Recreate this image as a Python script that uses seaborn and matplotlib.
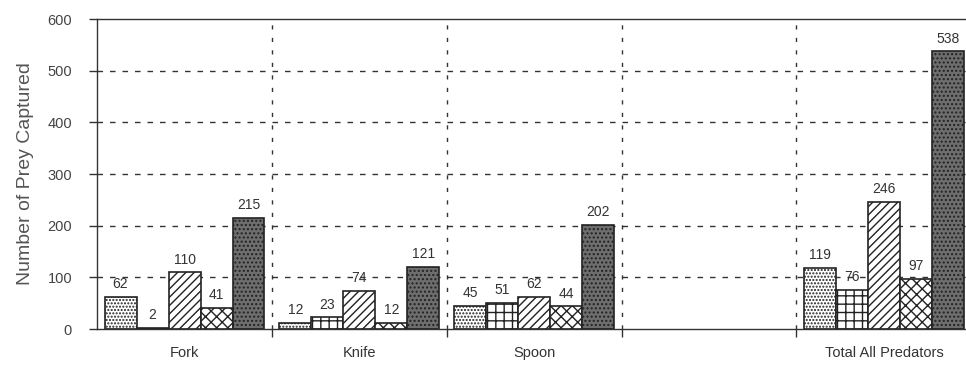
import numpy as np
import pandas as pd
import matplotlib
matplotlib.use('Agg')
import matplotlib.pyplot as plt
import seaborn as sns

# data
groups = ['Fork', 'Knife', 'Spoon', 'Total All Predators']
prey_types = ['Type 1', 'Type 2', 'Type 3', 'Type 4', 'Type 5']
fork = [62, 2, 110, 41, 215]
knife = [12, 23, 74, 12, 121]
spoon = [45, 51, 62, 44, 202]
total = [119, 76, 246, 97, 538]
yticks = [0, 100, 200, 300, 400, 500, 600]

order = ['Fork', 'Knife', 'Spoon', ' ', 'Total All Predators']

rows = []
for g, vals in zip(groups, [fork, knife, spoon, total]):
    for p, v in zip(prey_types, vals):
        rows.append({'group': g, 'prey': p, 'count': v})
df = pd.DataFrame(rows)

sns.set_style('white')
plt.rcParams['font.family'] = ['Liberation Sans', 'DejaVu Sans']
plt.rcParams['hatch.linewidth'] = 1.0

fig = plt.figure(figsize=(9.66, 3.66), dpi=100)
ax = fig.add_axes([0.1005, 0.101, 0.905, 0.847])

sns.barplot(data=df, x='group', y='count', hue='prey', order=order,
            hue_order=prey_types, width=0.915, legend=False,
            edgecolor='#222222', linewidth=1.2, ax=ax)

styles = [('white', '.....'), ('white', '++'), ('white', '////'),
          ('white', 'xxx'), ('#6e6e6e', '....')]
for cont, (fc, h) in zip(ax.containers, styles):
    for bar in cont:
        bar.set_facecolor(fc)
        bar.set_hatch(h)
        bar.set_edgecolor('#222222')
    ax.bar_label(cont, padding=4, fontsize=10, color='#333333')

ax.set_ylim(0, 600)
ax.set_xlim(-0.5, 4.5)
ax.set_yticks(yticks)
ax.set_yticklabels([str(t) for t in yticks], fontsize=10.5, color='#444444')
ax.tick_params(axis='y', left=True, direction='out', length=6, width=1, color='#333333', pad=12)
ax.tick_params(axis='x', which='major', bottom=False, length=0, labelsize=10.5, labelcolor='#333333', pad=12)
ax.set_xticks([0.5, 1.5, 2.5, 3.5], minor=True)
ax.tick_params(axis='x', which='minor', bottom=True, direction='out', length=6, width=1, color='#333333')

ax.set_xlabel('')
ax.set_ylabel('Number of Prey Captured', fontsize=14, color='#555555', labelpad=10)

for y in yticks[1:-1]:
    ax.axhline(y, color='#333333', lw=1, ls=(0, (4, 5)), zorder=0)
for x in [0.5, 1.5, 2.5, 3.5]:
    ax.axvline(x, color='#333333', lw=1, ls=(0, (3, 6)), zorder=0)

for s in ['left', 'bottom', 'top']:
    ax.spines[s].set_visible(True)
    ax.spines[s].set_color('#333333')
    ax.spines[s].set_linewidth(1.0)
ax.spines['right'].set_visible(False)

fig.savefig('out.png', dpi=100)
